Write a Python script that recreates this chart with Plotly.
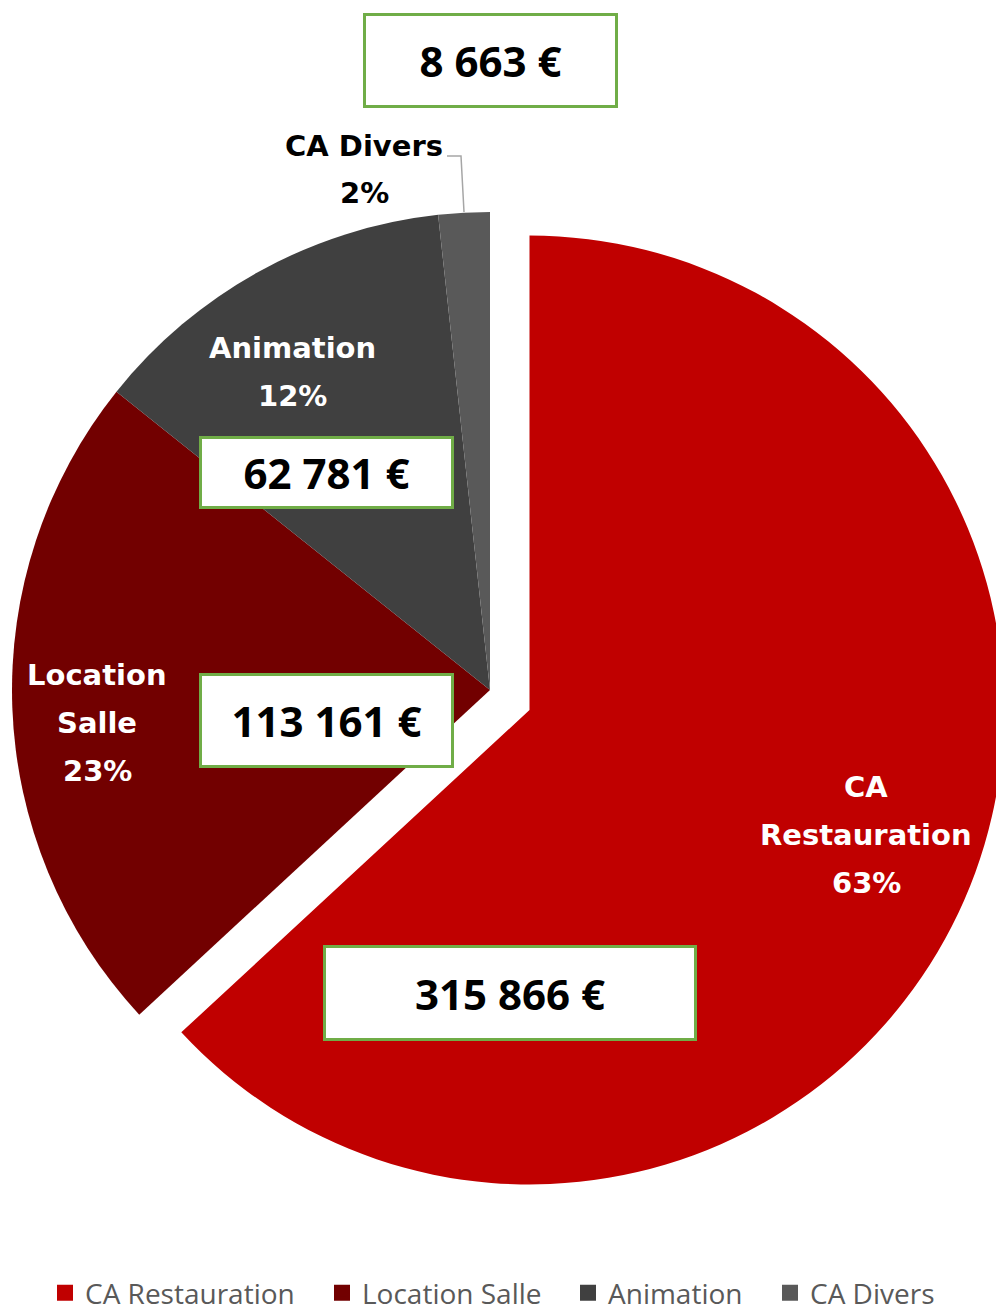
import plotly.graph_objects as go

# ---------------- data ----------------
categories = ["CA Restauration", "Location Salle", "Animation", "CA Divers"]
values = [315866, 113161, 62781, 8663]
pct_labels = ["63%", "23%", "12%", "2%"]
colors = ["#C00000", "#720000", "#404040", "#595959"]

# ---------------- layout helpers ----------------
# the page adds an 8px body margin: the figure is sized/offset so that
# positions below can be given in window pixels
OFF = 8
W, H = 1004 - OFF, 1310 - OFF
TRANSPARENT = "rgba(0,0,0,0)"


def px(x):
    return (x - OFF) / W


def py(y):
    return 1 - (y - OFF) / H


def dom(cx, cy, rx, ry):
    return dict(x=[max(0.0, px(cx - rx)), min(1.0, px(cx + rx))],
                y=[max(0.0, py(cy + ry)), min(1.0, py(cy - ry))])


R = 478
MAIN = dom(490, 690, R, R)                      # un-pulled slices
PULLED = dict(x=[px(55), 1.0], y=dom(0, 710, 0, R)["y"])   # pulled slice

fig = go.Figure()

# legend helper traces: small single-colour discs hidden under the slice of the same colour
legend_ids = ["legend", "legend2", "legend3", "legend4"]
helper_pos = [(800, 1000), (100, 850), (300, 280), (470, 262)]
for i, cat in enumerate(categories):
    hx, hy = helper_pos[i]
    fig.add_trace(go.Pie(
        labels=[cat], values=[values[i]],
        marker=dict(colors=[colors[i]], line=dict(color=colors[i], width=4)),
        textinfo="none", hoverinfo="skip", sort=False,
        domain=dom(hx, hy, 4, 4), legend=legend_ids[i], showlegend=True,
    ))

# un-pulled slices
fig.add_trace(go.Pie(
    labels=categories, values=values, sort=False, direction="clockwise", rotation=0,
    marker=dict(colors=[TRANSPARENT] + colors[1:], line=dict(width=0)),
    textinfo="none", showlegend=False, domain=MAIN,
    hovertemplate="%{label}: %{value}<extra></extra>",
))
# pulled slice
fig.add_trace(go.Pie(
    labels=categories, values=values, sort=False, direction="clockwise", rotation=0,
    marker=dict(colors=[colors[0]] + [TRANSPARENT] * 3, line=dict(width=0)),
    textinfo="none", showlegend=False, domain=PULLED,
    hovertemplate="%{label}: %{value}<extra></extra>",
))

annotations = []

# category labels (each line placed separately)
label_font = "DejaVu Sans"
label_pos = [(866, [787, 835, 883]), (97, [675, 723, 771]), (292, [348, 396]), (364, [146, 193])]
label_colors = ["white", "white", "white", "black"]
wrap = [True, True, False, False]
for i, cat in enumerate(categories):
    lines = (cat.split(" ") if wrap[i] else [cat]) + [pct_labels[i]]
    x, ys = label_pos[i]
    for line, y in zip(lines, ys):
        annotations.append(dict(
            x=px(x), y=py(y), xref="paper", yref="paper", showarrow=False,
            text="<b>" + line + "</b>", xanchor="center", yanchor="middle",
            font=dict(family=label_font, size=29, color=label_colors[i]),
        ))

# value boxes
box_pos = [(510, 993, 374, 96), (326.5, 720.5, 255, 95), (326.5, 472.5, 255, 73), (490, 60, 255, 95)]
BW = 3
for i, v in enumerate(values):
    cx, cy, bw_, bh_ = box_pos[i]
    annotations.append(dict(
        x=px(cx), y=py(cy), xref="paper", yref="paper", showarrow=False,
        text="<b>" + f"{v:,}".replace(",", " ") + " €</b>",
        xanchor="center", yanchor="middle",
        width=bw_ - 2 * BW, height=bh_ - 2 * BW, borderpad=0,
        bgcolor="white", bordercolor="#70AD47", borderwidth=BW,
        font=dict(family="Open Sans", size=42, color="black"),
    ))

# leader line for CA Divers
shapes = [dict(
    type="path", xref="paper", yref="paper",
    path=f"M {px(447)},{py(156)} L {px(461)},{py(156)} L {px(464)},{py(212)}",
    line=dict(color="#A6A6A6", width=1.5),
)]

legend_text_x = [85, 362, 608, 810]
legend_common = dict(
    orientation="h", font=dict(family="Open Sans", size=28, color="#595959"),
    bgcolor="rgba(0,0,0,0)", borderwidth=0, xanchor="left", yanchor="middle",
    y=py(1293), itemwidth=30,
)
legends = {}
for i, lid in enumerate(legend_ids):
    legends[lid] = dict(legend_common, x=px(legend_text_x[i] - 40))

fig.update_layout(
    width=W, height=H, autosize=False,
    margin=dict(l=0, r=0, t=0, b=0, pad=0, autoexpand=False),
    paper_bgcolor="white", plot_bgcolor="white",
    annotations=annotations, shapes=shapes,
    **legends,
)

fig.write_html("out.html")
